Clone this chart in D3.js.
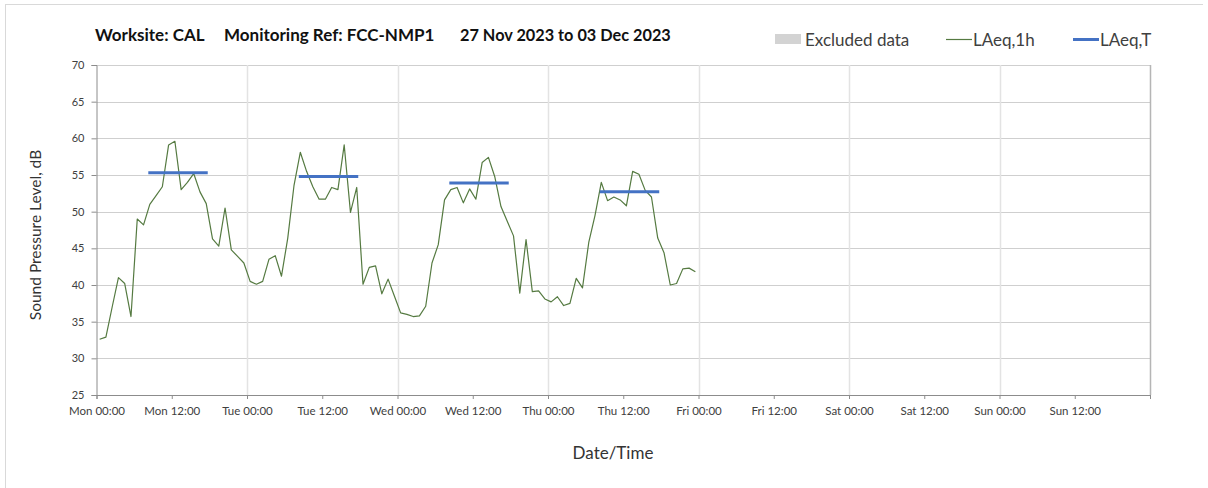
<!DOCTYPE html>
<html>
<head>
<meta charset="utf-8">
<script src="https://cdn.jsdelivr.net/npm/d3@7"></script>
<style>
  html, body { margin: 0; padding: 0; background: #ffffff; }
  svg { display: block; }
  text { font-family: Lato, "Open Sans", sans-serif; }
</style>
</head>
<body>
<svg id="chart" width="1208" height="488"></svg>
<script>
// Hourly LAeq,1h values (dB), first hour starting Mon 27 Nov 2023 00:00
const hourlyLAeq = [
  32.6, 32.9, 37.0, 41.0, 40.2, 35.7, 49.0, 48.2, 51.0, 52.2, 53.4, 59.1,
  59.6, 53.0, 54.0, 55.2, 52.7, 51.1, 46.3, 45.3, 50.5, 44.8, 43.9, 43.0,
  40.5, 40.1, 40.5, 43.5, 44.0, 41.2, 46.4, 53.6, 58.1, 55.5, 53.4, 51.7,
  51.7, 53.3, 53.0, 59.1, 49.9, 53.3, 40.1, 42.4, 42.6, 38.8, 40.8, 38.5,
  36.2, 36.0, 35.7, 35.8, 37.1, 43.0, 45.5, 51.6, 53.0, 53.3, 51.2, 53.1,
  51.7, 56.7, 57.4, 54.8, 50.7, 48.7, 46.7, 38.9, 46.2, 39.1, 39.2, 38.1,
  37.7, 38.4, 37.2, 37.5, 40.9, 39.6, 45.8, 49.5, 54.0, 51.5, 52.0, 51.6,
  50.8, 55.5, 55.1, 52.9, 52.0, 46.4, 44.4, 40.0, 40.2, 42.2, 42.3, 41.8
];

// Daytime LAeq,T per monitored day
const periodDays   = ["2023-11-27", "2023-11-28", "2023-11-29", "2023-11-30"];
const periodLAeqT  = [55.3, 54.8, 53.9, 52.7];
const periodStart  = "08:30";
const periodEnd    = "17:30";

// Axis settings
const weekStart = "2023-11-27T00:00";
const weekEnd   = "2023-12-04T00:00";
const yTicks = [25, 30, 35, 40, 45, 50, 55, 60, 65, 70];

const titleParts = ["Worksite: CAL", "Monitoring Ref: FCC-NMP1", "27 Nov 2023 to 03 Dec 2023"];
const legendLabels = ["Excluded data", "LAeq,1h", "LAeq,T"];

const parse = d3.timeParse("%Y-%m-%dT%H:%M");
const t0 = parse(weekStart), t1 = parse(weekEnd);
// each hourly value is plotted at the middle of its hour
const points = hourlyLAeq.map((v, i) => ({ t: d3.timeMinute.offset(d3.timeHour.offset(t0, i), 30), v }));
const periods = periodDays.map((d, i) => ({
  a: parse(d + "T" + periodStart),
  b: parse(d + "T" + periodEnd),
  v: periodLAeqT[i]
}));

const svg = d3.select("#chart");
const X0 = 96.5, X1 = 1150, Y0 = 65, Y1 = 395;

const x = d3.scaleTime().domain([t0, t1]).range([X0, X1]);
const y = d3.scaleLinear().domain([25, 70]).range([Y1, Y0]);

// outer frame edges
svg.append("line").attr("x1", 5.5).attr("x2", 5.5).attr("y1", 4).attr("y2", 488)
  .attr("stroke", "#d9d9d9");
svg.append("line").attr("x1", 5).attr("x2", 1203).attr("y1", 4.5).attr("y2", 4.5)
  .attr("stroke", "#d9d9d9");

// horizontal gridlines
svg.append("g").selectAll("line").data(yTicks.filter(d => d > 25)).join("line")
  .attr("x1", X0).attr("x2", X1)
  .attr("y1", d => Math.round(y(d)) + 0.5).attr("y2", d => Math.round(y(d)) + 0.5)
  .attr("stroke", "#cfcfcf").attr("stroke-width", 1);

// vertical day gridlines
const days = d3.timeDay.range(d3.timeDay.offset(t0, 1), d3.timeDay.offset(t1, 1));
svg.append("g").selectAll("line").data(days).join("line")
  .attr("x1", d => Math.round(x(d)) + 0.5).attr("x2", d => Math.round(x(d)) + 0.5)
  .attr("y1", Y0).attr("y2", Y1)
  .attr("stroke", d => +d === +t1 ? "#b5b5b5" : "#e3e3e3").attr("stroke-width", 1.5);

// y axis
const yAxis = d3.axisLeft(y).tickValues(yTicks).tickSizeOuter(0).tickSize(5).tickPadding(7);
const gy = svg.append("g").attr("transform", `translate(${X0},0)`).call(yAxis);
gy.select(".domain").attr("stroke", "#8c8c8c");
gy.selectAll(".tick line").attr("stroke", "#8c8c8c");
gy.selectAll(".tick text").attr("fill", "#404040").style("font-size", "11px")
  .style("font-family", "Lato, sans-serif");

// x axis, 12-hour ticks
const xTickVals = d3.timeHour.every(12).range(t0, d3.timeHour.offset(t1, 1));
const fmt = d3.timeFormat("%a %H:%M");
const xAxis = d3.axisBottom(x).tickValues(xTickVals).tickSizeOuter(0).tickSize(4).tickPadding(8)
  .tickFormat(d => +d === +t1 ? "" : fmt(d));
const gx = svg.append("g").attr("transform", `translate(0,${Y1})`).call(xAxis);
gx.select(".domain").attr("stroke", "#8c8c8c");
gx.selectAll(".tick line").attr("stroke", "#8c8c8c");
gx.selectAll(".tick text").attr("fill", "#404040").style("font-size", "11.5px")
  .style("font-family", "Lato, sans-serif");

// LAeq,1h line
const line = d3.line().x(d => x(d.t)).y(d => y(d.v));
svg.append("path").datum(points)
  .attr("fill", "none").attr("stroke", "#557a41").attr("stroke-width", 1.2)
  .attr("stroke-linejoin", "round").attr("d", line);

// LAeq,T daytime segments
svg.append("g").selectAll("line").data(periods).join("line")
  .attr("x1", d => x(d.a)).attr("x2", d => x(d.b))
  .attr("y1", d => y(d.v)).attr("y2", d => y(d.v))
  .attr("stroke", "#4472c4").attr("stroke-width", 3).attr("stroke-linecap", "square");

// title
const titleX = [95, 224, 460];
const titleSize = [17, 17, 16.3];
svg.append("g").selectAll("text").data(titleParts).join("text")
  .attr("x", (d, i) => titleX[i]).attr("y", 41)
  .attr("fill", "#111").style("font-size", (d, i) => titleSize[i] + "px").style("font-weight", "bold")
  .text(d => d);

// legend
const lg = svg.append("g").attr("fill", "#404040").style("font-size", "17px");
lg.append("rect").attr("x", 775).attr("y", 34).attr("width", 26).attr("height", 10).attr("fill", "#d3d3d3");
lg.append("text").attr("x", 805).attr("y", 45.5).text(legendLabels[0]);
lg.append("line").attr("x1", 946).attr("x2", 972).attr("y1", 39.5).attr("y2", 39.5)
  .attr("stroke", "#557a41").attr("stroke-width", 1.2);
lg.append("text").attr("x", 973).attr("y", 45.5).text(legendLabels[1]);
lg.append("line").attr("x1", 1073).attr("x2", 1099).attr("y1", 39.5).attr("y2", 39.5)
  .attr("stroke", "#4472c4").attr("stroke-width", 3);
lg.append("text").attr("x", 1100).attr("y", 45.5).text(legendLabels[2]);

// axis titles
svg.append("text").attr("transform", "translate(41,235) rotate(-90)")
  .attr("text-anchor", "middle").attr("fill", "#333").style("font-size", "15.5px")
  .text("Sound Pressure Level, dB");
svg.append("text").attr("x", 613).attr("y", 459)
  .attr("text-anchor", "middle").attr("fill", "#333").style("font-size", "17px")
  .text("Date/Time");
</script>
</body>
</html>
